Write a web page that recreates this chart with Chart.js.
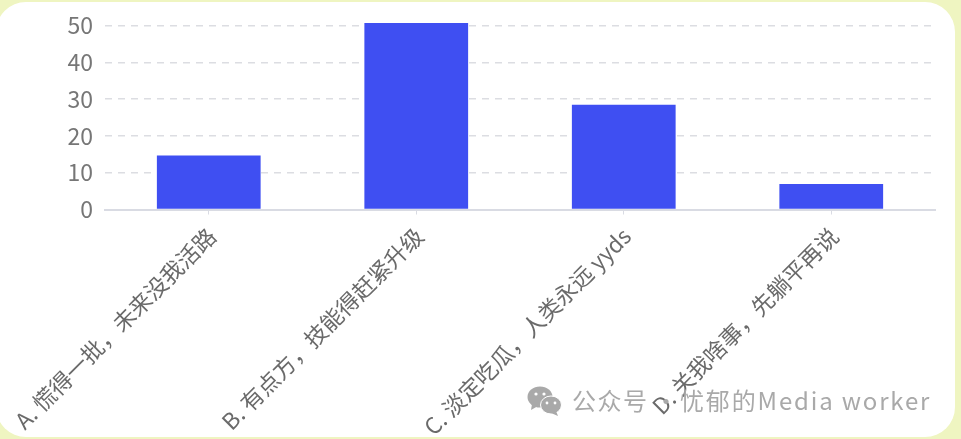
<!DOCTYPE html>
<html>
<head>
<meta charset="utf-8">
<script src="https://cdn.jsdelivr.net/npm/chart.js@4"></script>
<style>
    html, body { margin: 0; padding: 0; width: 961px; height: 439px; overflow: hidden; background: #eff5c1; }
    .card { position: absolute; left: -4px; top: 2px; width: 959px; height: 435px; background: #fff; border-radius: 30px; }
    .chart-box { position: absolute; left: 0; top: 0; width: 961px; height: 439px; filter: blur(0.5px); }
    .mark { position: absolute; top: 383px; font: 24px "Noto Sans CJK SC", "Noto Sans", sans-serif; color: #a9a9a9; line-height: 34px; white-space: nowrap; filter: blur(0.4px); }
    .wechat { position: absolute; left: 527px; top: 385px; filter: blur(0.4px); }
</style>
</head>
<body>
<div class="card"></div>
<div class="chart-box"><canvas id="barChart" width="961" height="439"></canvas></div>
<svg class="wechat" width="36" height="32" viewBox="0 0 36 32">
    <ellipse cx="13" cy="12" rx="12.5" ry="10.5" fill="#a9a9a9"/>
    <path d="M5 19 L4 25 L11 21 Z" fill="#a9a9a9"/>
    <ellipse cx="24" cy="20" rx="10.5" ry="9" fill="#a9a9a9" stroke="#fff" stroke-width="1"/>
    <path d="M29 26 L31 31 L24 28 Z" fill="#a9a9a9"/>
    <circle cx="9" cy="9" r="1.6" fill="#fff"/><circle cx="17" cy="9" r="1.6" fill="#fff"/>
    <circle cx="20" cy="18" r="1.4" fill="#fff"/><circle cx="28" cy="18" r="1.4" fill="#fff"/>
</svg>
<div class="mark" style="left: 572px; letter-spacing: 1.5px;">公众号</div>
<div class="mark" style="left: 654px;">·</div>
<div class="mark" style="left: 680px; letter-spacing: 1.85px;">忧郁的Media worker</div>
<script>
const categories = [
    'A. 慌得一批，未来没我活路',
    'B. 有点方，技能得赶紧升级',
    'C. 淡定吃瓜，人类永远 yyds',
    'D. 关我啥事，先躺平再说'
];
const counts = [14.7, 50.7, 28.5, 6.9];
const yTicks = [0, 10, 20, 30, 40, 50];

const fontFamily = '"Noto Sans CJK SC", "Noto Sans", sans-serif';

new Chart(document.getElementById('barChart').getContext('2d'), {
    type: 'bar',
    data: {
        labels: categories,
        datasets: [{
            data: counts,
            backgroundColor: '#3f4ff2',
            barPercentage: 0.5,
            categoryPercentage: 1
        }]
    },
    options: {
        responsive: false,
        animation: false,
        layout: {
            padding: { left: 0, top: 23, right: 26, bottom: 0 }
        },
        plugins: {
            legend: { display: false },
            tooltip: { enabled: false }
        },
        scales: {
            x: {
                // keep the long rotated labels from pushing the plot area in
                afterFit: axis => {
                    axis.height = 229.5;
                    axis.paddingLeft = 0;
                    axis.paddingRight = 0;
                },
                grid: { offset: false, drawOnChartArea: false, color: '#d9dbe3', tickLength: 5 },
                border: { color: '#d9dbe3', width: 2 },
                ticks: {
                    autoSkip: false,
                    minRotation: 45,
                    maxRotation: 45,
                    padding: 8,
                    labelOffset: 3,
                    color: '#6a6a6a',
                    font: { family: fontFamily, size: 22.5 }
                }
            },
            y: {
                min: 0,
                max: 50.7,
                afterBuildTicks: axis => {
                    axis.ticks = yTicks.map(value => ({ value }));
                },
                afterFit: axis => {
                    axis.width = 105;
                    axis.paddingTop = 0;
                    axis.paddingBottom = 0;
                },
                grid: { color: '#dcdde2', drawTicks: false, lineWidth: 1.5 },
                border: { display: false, dash: [7, 6] },
                ticks: {
                    padding: 12,
                    color: '#767676',
                    font: { family: fontFamily, size: 23 }
                }
            }
        }
    }
});
</script>
</body>
</html>
